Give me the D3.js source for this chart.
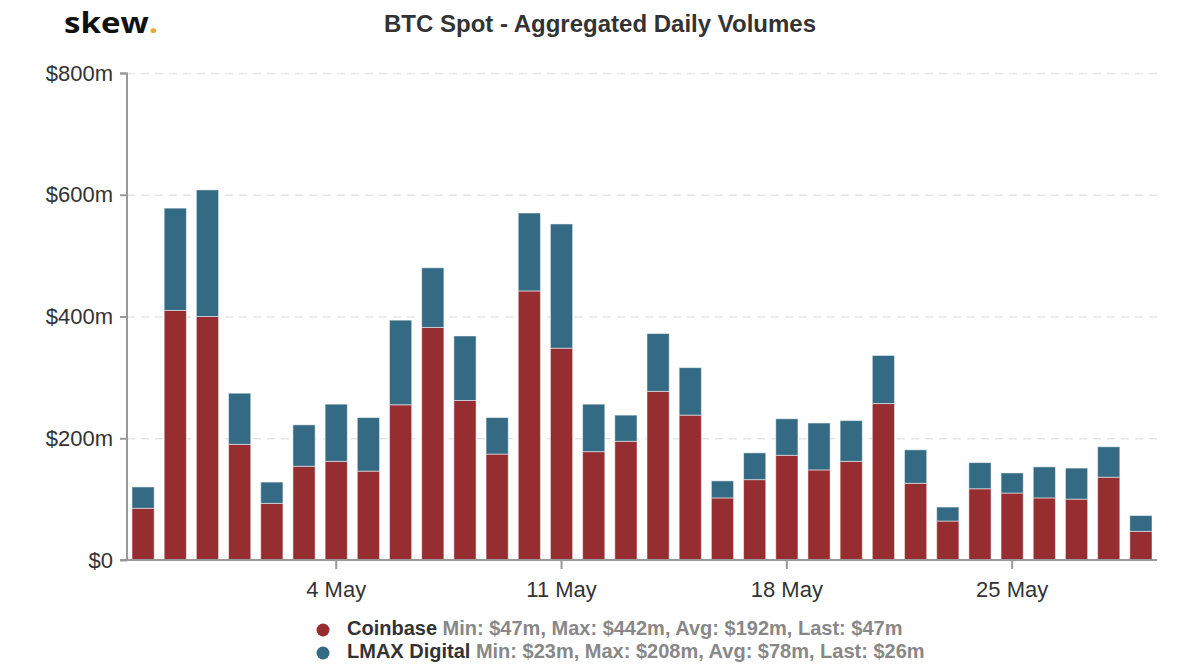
<!DOCTYPE html>
<html>
<head>
<meta charset="utf-8">
<script src="https://cdn.jsdelivr.net/npm/d3@7"></script>
<style>
  body { margin: 0; background: #fff; }
  svg { font-family: 'Liberation Sans', Arial, sans-serif; display: block; }
</style>
</head>
<body>
<div id="chart"></div>
<script>
const days = ['28 Apr', '29 Apr', '30 Apr', '1 May', '2 May', '3 May', '4 May', '5 May', '6 May', '7 May',
  '8 May', '9 May', '10 May', '11 May', '12 May', '13 May', '14 May', '15 May', '16 May', '17 May',
  '18 May', '19 May', '20 May', '21 May', '22 May', '23 May', '24 May', '25 May', '26 May', '27 May',
  '28 May', '29 May'];
const coinbase = [85, 410, 400, 190, 93, 154, 162, 146, 255, 382, 262, 174, 442, 348, 178, 195,
  277, 238, 102, 132, 172, 148, 162, 257, 126, 64, 117, 110, 102, 100, 136, 47];
const lmax = [35, 168, 208, 84, 35, 68, 94, 88, 139, 98, 106, 60, 128, 204, 78, 43,
  95, 78, 28, 44, 60, 77, 67, 79, 55, 23, 43, 33, 51, 51, 50, 26];
const yTicks = [0, 200, 400, 600, 800];
const xTickLabels = ['4 May', '11 May', '18 May', '25 May'];
const legendItems = [
  { name: 'Coinbase', stats: 'Min: $47m, Max: $442m, Avg: $192m, Last: $47m', color: '#962e31' },
  { name: 'LMAX Digital', stats: 'Min: $23m, Max: $208m, Avg: $78m, Last: $26m', color: '#346a83' },
];

const canvasWidth = 1200;
const canvasHeight = 670;
const margins = { top: 73, right: 43, bottom: 110, left: 127 };
const width = canvasWidth - margins.left - margins.right;
const height = canvasHeight - margins.top - margins.bottom;

const svg = d3.select('#chart')
  .append('svg')
  .attr('width', canvasWidth)
  .attr('height', canvasHeight);

// logo (stretched a little to match the wide wordmark)
const logo = svg.append('text')
  .attr('transform', 'translate(64, 33) scale(1.18, 1)')
  .attr('font-family', "'Open Sans', 'DejaVu Sans', sans-serif")
  .attr('font-weight', 'bold')
  .attr('font-size', 28)
  .attr('fill', '#111')
  .text('skew');
logo.append('tspan')
  .attr('fill', '#e8a735')
  .text('.');

// title
svg.append('text')
  .attr('x', 600)
  .attr('y', 32)
  .attr('text-anchor', 'middle')
  .attr('font-weight', 'bold')
  .attr('font-size', 24)
  .attr('fill', '#333')
  .text('BTC Spot - Aggregated Daily Volumes');

const scaleX = d3.scaleBand()
  .domain(days)
  .range([0, width])
  .paddingInner(0.31)
  .paddingOuter(0.155);
const scaleY = d3.scaleLinear()
  .domain([0, 800])
  .range([height, 0]);

const chart = svg.append('g')
  .attr('transform', `translate(${margins.left}, ${margins.top})`);

// grid
chart.append('g')
  .selectAll('line')
  .data(yTicks.filter(d => d > 0))
  .enter()
  .append('line')
    .attr('x1', 0)
    .attr('x2', width)
    .attr('y1', d => scaleY(d) + 0.5)
    .attr('y2', d => scaleY(d) + 0.5)
    .attr('stroke', '#e6e6e6')
    .attr('stroke-width', 1.5)
    .attr('stroke-dasharray', '8,6');

// stacked bars
const stack = days.map((d, i) => ({ day: d, c: coinbase[i], l: lmax[i] }));
const bars = chart.append('g');
bars.selectAll('.cb')
  .data(stack)
  .enter()
  .append('rect')
    .attr('x', d => scaleX(d.day))
    .attr('y', d => scaleY(d.c))
    .attr('width', scaleX.bandwidth())
    .attr('height', d => height - scaleY(d.c))
    .attr('fill', legendItems[0].color)
    .attr('stroke', '#fff')
    .attr('stroke-opacity', 0.5)
    .attr('stroke-width', 1);
bars.selectAll('.lm')
  .data(stack)
  .enter()
  .append('rect')
    .attr('x', d => scaleX(d.day))
    .attr('y', d => scaleY(d.c + d.l))
    .attr('width', scaleX.bandwidth())
    .attr('height', d => scaleY(d.c) - scaleY(d.c + d.l))
    .attr('fill', legendItems[1].color)
    .attr('stroke', '#fff')
    .attr('stroke-opacity', 0.5)
    .attr('stroke-width', 1);

// y axis
const axisY = d3.axisLeft(scaleY)
  .tickValues(yTicks)
  .tickSize(7)
  .tickPadding(7)
  .tickFormat(d => `$${d}m`.replace('$0m', '$0'));
const gy = chart.append('g')
  .call(axisY);
gy.select('.domain').attr('stroke', '#999').attr('stroke-width', 2).attr('d', `M-7,0.5H0V${height}`);
gy.selectAll('.tick line').attr('stroke', '#999').attr('stroke-width', 2);
gy.selectAll('.tick text')
  .attr('font-size', 22)
  .attr('fill', '#333')
  .attr('font-family', "'Liberation Sans', Arial, sans-serif");

// x axis
const axisX = d3.axisBottom(scaleX)
  .tickValues(xTickLabels)
  .tickSize(9)
  .tickPadding(12);
const gx = chart.append('g')
  .attr('transform', `translate(0, ${height})`)
  .call(axisX);
gx.select('.domain').attr('stroke', '#999').attr('stroke-width', 2).attr('d', `M-7,0H${width}`);
gx.selectAll('.tick line').attr('stroke', '#999').attr('stroke-width', 2);
gx.selectAll('.tick text')
  .attr('font-size', 22)
  .attr('fill', '#333')
  .attr('font-family', "'Liberation Sans', Arial, sans-serif");

// legend
const legend = svg.append('g')
  .attr('transform', 'translate(323, 628)');
const item = legend.selectAll('g')
  .data(legendItems)
  .enter()
  .append('g')
    .attr('transform', (d, i) => `translate(0, ${i * 23})`);
item.append('circle')
  .attr('r', 6.5)
  .attr('cy', 2)
  .attr('fill', d => d.color);
const label = item.append('text')
  .attr('x', 24)
  .attr('y', 7)
  .attr('font-size', 20)
  .attr('font-weight', 'bold');
label.append('tspan')
  .attr('fill', '#333')
  .text(d => d.name);
label.append('tspan')
  .attr('fill', '#888')
  .text(d => ` ${d.stats}`);
</script>
</body>
</html>
